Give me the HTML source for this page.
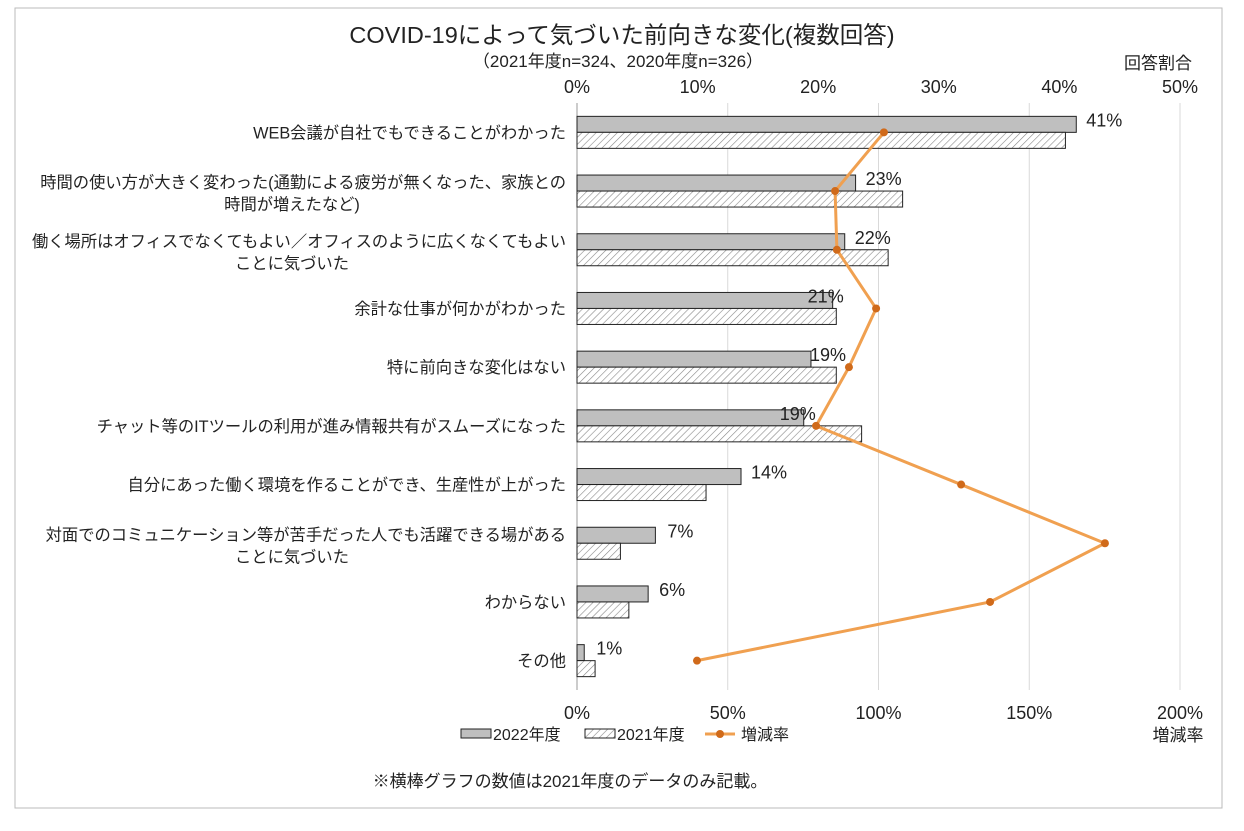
<!DOCTYPE html>
<html><head><meta charset="utf-8">
<style>
body{margin:0;background:#fff;}
svg{font-family:"Liberation Sans","Noto Sans CJK JP",sans-serif;}
</style></head>
<body>
<svg width="1244" height="826" xmlns="http://www.w3.org/2000/svg">
<defs>
<pattern id="hatch" width="5" height="5" patternUnits="userSpaceOnUse" patternTransform="rotate(45)">
<rect width="5" height="5" fill="#fff"/><line x1="0" y1="0" x2="0" y2="5" stroke="#888" stroke-width="1.2"/>
</pattern>
</defs>
<rect x="15" y="8" width="1207" height="800" fill="#fff" stroke="#bbb"/>
<text x="622" y="43" font-size="23.5" text-anchor="middle" fill="#222">COVID-19によって気づいた前向きな変化(複数回答)</text>
<text x="618" y="67" font-size="17" text-anchor="middle" fill="#222">（2021年度n=324、2020年度n=326）</text>
<text x="1158" y="69" font-size="17" text-anchor="middle" fill="#222">回答割合</text>
<text x="1178" y="741" font-size="17" text-anchor="middle" fill="#222">増減率</text>
<g id="grid"></g><g id="bars"></g><g id="line"></g><g id="labels"></g>
<g font-size="16" fill="#222">
<rect x="461" y="729" width="30" height="9" fill="#bfbfbf" stroke="#222"/>
<text x="493" y="740">2022年度</text>
<rect x="585" y="729" width="30" height="9" fill="url(#hatch)" stroke="#222"/>
<text x="617" y="740">2021年度</text>
<line x1="705" y1="734" x2="735" y2="734" stroke="#f0a050" stroke-width="3"/>
<circle cx="720" cy="734" r="4" fill="#d06a1a"/>
<text x="741" y="740">増減率</text>
</g>
<text x="570" y="787" font-size="17" text-anchor="middle" fill="#222">※横棒グラフの数値は2021年度のデータのみ記載。</text>
<script>
const categories=[["WEB会議が自社でもできることがわかった"],["時間の使い方が大きく変わった(通勤による疲労が無くなった、家族との","時間が増えたなど)"],["働く場所はオフィスでなくてもよい／オフィスのように広くなくてもよい","ことに気づいた"],["余計な仕事が何かがわかった"],["特に前向きな変化はない"],["チャット等のITツールの利用が進み情報共有がスムーズになった"],["自分にあった働く環境を作ることができ、生産性が上がった"],["対面でのコミュニケーション等が苦手だった人でも活躍できる場がある","ことに気づいた"],["わからない"],["その他"]];
const values2022=[41.4,23.1,22.2,21.2,19.4,18.8,13.6,6.5,5.9,0.6];
const values2021=[40.5,27.0,25.8,21.5,21.5,23.6,10.7,3.6,4.3,1.5];
const rate=[101.8,85.6,86.2,99.2,90.2,79.3,127.4,175.1,137,39.8];
const barLabels=["41%","23%","22%","21%","19%","19%","14%","7%","6%","1%"];
const topTicks=[0,10,20,30,40,50];
const bottomTicks=[0,50,100,150,200];
const labelShift=[10,10,10,-25,-1,-24,10,12,11,12];
const NS="http://www.w3.org/2000/svg";
const x0=577,x1=1180,rowTop=103,rowH=58.7;
const xTop=v=>x0+(x1-x0)*v/50;
const xBot=v=>x0+(x1-x0)*v/200;
const yC=i=>rowTop+rowH*(i+0.5);
function mk(tag,attrs,parent,text){const e=document.createElementNS(NS,tag);for(const k in attrs)e.setAttribute(k,attrs[k]);if(text!==undefined)e.textContent=text;document.getElementById(parent).appendChild(e);return e;}
bottomTicks.forEach(t=>{
 const g=mk('line',{x1:xBot(t),x2:xBot(t),y1:103,y2:690,stroke:t===0?'#999':'#d9d9d9','stroke-width':1},'grid');
 
 
 const l=mk('text',{x:xBot(t),y:719,'font-size':18,'text-anchor':'middle',fill:'#222'},'grid',t+'%');
 
 
});
topTicks.forEach(t=>{
 const l=mk('text',{x:xTop(t),y:93,'font-size':18,'text-anchor':'middle',fill:'#222'},'grid',t+'%');
 
 
});
categories.forEach((c,i)=>{
 const y=yC(i);
 const b1=mk('rect',{x:x0,y:y-16,width:xTop(values2022[i])-x0,height:16,fill:'#bfbfbf',stroke:'#222','stroke-width':1},'bars');
 
 
 const b2=mk('rect',{x:x0,y:y,width:xTop(values2021[i])-x0,height:16,fill:'url(#hatch)',stroke:'#222','stroke-width':1},'bars');
 
 
 const vl=mk('text',{x:xTop(values2022[i])+labelShift[i],y:y-6,'font-size':18,fill:'#222'},'labels',barLabels[i]);
 
 
 const off=c.length===1?6:-3;
 c.forEach((s,k)=>{
  const t=mk('text',{x:k===1?292:566,y:y+off+k*22,'font-size':16.3,'text-anchor':k===1?'middle':'end',fill:'#222'},'labels',s);
  
  
 });
});
const pts=rate.map((v,i)=>xBot(v)+','+yC(i)).join(' ');
const pl=mk('polyline',{points:pts,fill:'none',stroke:'#f0a050','stroke-width':3},'line');


rate.forEach((v,i)=>{
 const c=mk('circle',{cx:xBot(v),cy:yC(i),r:4,fill:'#d06a1a'},'line');
 
 
});
</script>
</svg>
</body></html>
